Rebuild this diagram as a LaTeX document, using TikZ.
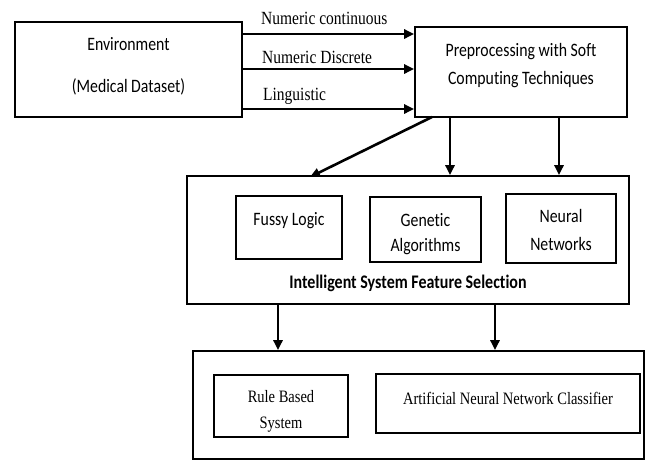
\documentclass[tikz,border=0pt]{standalone}
\usepackage{fontspec}
\setmainfont{Liberation Serif}
\newfontfamily\calfont[Ligatures={NoCommon}]{Carlito}
\usetikzlibrary{arrows.meta}
\newcommand\vs[1]{\scalebox{1}[1.2]{#1}}
\begin{document}
\begin{tikzpicture}[x=1pt,y=-1pt,
  box/.style={draw,line width=1.6pt,inner sep=0pt},
  cal/.style={font=\calfont\fontsize{15.8}{19}\selectfont,inner sep=0pt},
  tms/.style={font=\fontsize{15.5}{18}\selectfont,inner sep=0pt},
  arr/.style={line width=2.6pt,-{Triangle[length=10pt,width=9pt]}}]
\useasboundingbox (0,0) rectangle (649,461);
% boxes
\node[box,minimum width=227pt,minimum height=95pt] (env) at (128.5,69.5) {};
\node[box,minimum width=212pt,minimum height=90pt] (prep) at (521,72) {};
\node[box,minimum width=442pt,minimum height=128pt] (feat) at (408,240) {};
\node[box,minimum width=106pt,minimum height=63pt] (fuzzy) at (289,227.5) {};
\node[box,minimum width=111pt,minimum height=65pt] (gen) at (425.5,229.5) {};
\node[box,minimum width=110pt,minimum height=69pt] (neur) at (561,228.5) {};
\node[box,minimum width=451pt,minimum height=108pt] (bot) at (418.5,405) {};
\node[box,minimum width=134pt,minimum height=62pt] (rule) at (281,406) {};
\node[box,minimum width=264pt,minimum height=59pt] (ann) at (508,403.5) {};
% texts
\node[cal] (envt1) at (128.5,44) {\vs{Environment}};
\node[cal] (envt2) at (128.5,87) {\vs{(Medical Dataset)}};
\node[cal] (prept1) at (521,52) {\vs{Preprocessing with Soft}};
\node[cal] (prept2) at (521,80) {\vs{Computing Techniques}};
\node[cal] (fuzzyt) at (289,221) {\vs{Fussy Logic}};
\node[cal] (gent1) at (425.5,220) {\vs{Genetic}};
\node[cal] (gent2) at (425.5,247) {\vs{Algorithms}};
\node[cal] (neurt1) at (561,216) {\vs{Neural}};
\node[cal] (neurt2) at (561,244) {\vs{Networks}};
\node[font=\calfont\bfseries\fontsize{16}{19}\selectfont,inner sep=0pt] (featt) at (408,283) {\vs{Intelligent System Feature Selection}};
\node[tms,font=\fontsize{14.5}{17}\selectfont] (rulet1) at (281,397) {\vs{Rule Based}};
\node[tms,font=\fontsize{14.5}{17}\selectfont] (rulet2) at (281,425) {\vs{System}};
\node[tms,font=\fontsize{14.5}{17}\selectfont] (annt) at (508,398) {\vs{Artificial Neural Network Classifier}};
% input arrows
\draw[arr] (env.east |- 0,34) -- (prep.west |- 0,34);
\draw[arr] (env.east |- 0,69) -- (prep.west |- 0,69);
\draw[arr] (env.east |- 0,109) -- (prep.west |- 0,109);
\node[tms,anchor=west] (l1) at (261,18) {\vs{Numeric continuous}};
\node[tms,anchor=west] (l2) at (262,57) {\vs{Numeric Discrete}};
\node[tms,anchor=west] (l3) at (263,96) {\vs{Linguistic}};
% preprocessing to feature selection
\coordinate (d1) at (432,117);
\coordinate (d2) at (310,177);
\draw[arr] (d1) -- (d2);
\draw[arr] (prep.south -| 450,0) -- (feat.north -| 450,0);
\draw[arr] (prep.south -| 559,0) -- (feat.north -| 559,0);
% feature selection to classifiers
\draw[arr] (feat.south -| 278,0) -- (bot.north -| 278,0);
\draw[arr] (feat.south -| 495,0) -- (bot.north -| 495,0);
\end{tikzpicture}
\end{document}
